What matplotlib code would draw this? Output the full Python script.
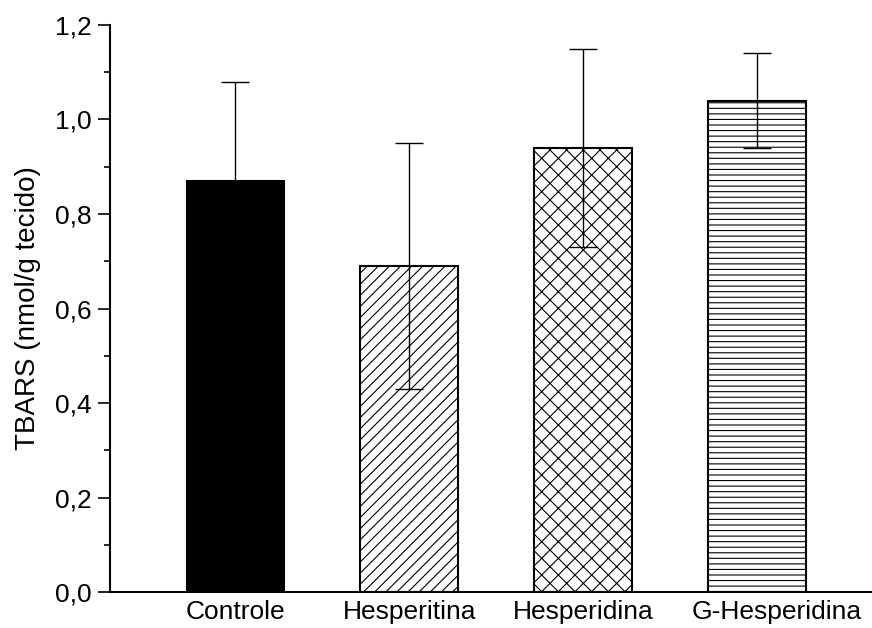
import numpy as np
import matplotlib
matplotlib.use('Agg')
import matplotlib.pyplot as plt
import matplotlib.transforms as mtransforms
from matplotlib.ticker import MultipleLocator, FuncFormatter

plt.rcParams['font.family'] = ['Liberation Sans', 'DejaVu Sans']
plt.rcParams['hatch.linewidth'] = 0.8

# dados
grupos = ['Controle', 'Hesperitina', 'Hesperidina', 'G-Hesperidina']
tbars = [0.87, 0.69, 0.94, 1.04]
erro = [0.21, 0.26, 0.21, 0.10]
cores = ['black', 'white', 'white', 'white']
hachuras = ['', '///', 'xx', '---']

fig = plt.figure(figsize=(8.72, 6.28), dpi=100)
ax = fig.add_axes([0.1261, 0.0573, 0.8739, 0.9029])

x = np.arange(len(grupos))
barras = ax.bar(x, tbars, width=0.56, color=cores, edgecolor='black',
                linewidth=1.5, zorder=2)
for b, h in zip(barras, hachuras):
    if h:
        b.set_hatch(h)

ax.errorbar(x, tbars, yerr=erro, fmt='none', ecolor='black', elinewidth=1,
            capsize=10, capthick=1, zorder=3)

ax.set_xlim(-0.72, 3.66)
ax.set_ylim(0, 1.2)
ax.yaxis.set_major_locator(MultipleLocator(0.2))
ax.yaxis.set_minor_locator(MultipleLocator(0.1))
ax.yaxis.set_major_formatter(FuncFormatter(lambda v, p: ('%.1f' % v).replace('.', ',')))

ax.set_xticks(x)
ax.set_xticklabels(grupos, fontsize=19)
ax.tick_params(axis='x', length=0, pad=6)
ax.tick_params(axis='y', which='major', length=8.5, width=1.2, labelsize=19, pad=4.5)
ax.tick_params(axis='y', which='minor', length=4.2, width=1.2)

# o ultimo rotulo fica um pouco deslocado para a direita no original
ultimo = ax.get_xticklabels()[-1]
ultimo.set_transform(ultimo.get_transform() +
                     mtransforms.ScaledTranslation(0.2, 0, fig.dpi_scale_trans))

ax.set_ylabel('TBARS (nmol/g tecido)', fontsize=20, labelpad=10)

ax.spines['top'].set_visible(False)
ax.spines['right'].set_visible(False)
ax.spines['left'].set_linewidth(1.5)
ax.spines['bottom'].set_linewidth(1.5)

fig.savefig('out.png', dpi=100)
